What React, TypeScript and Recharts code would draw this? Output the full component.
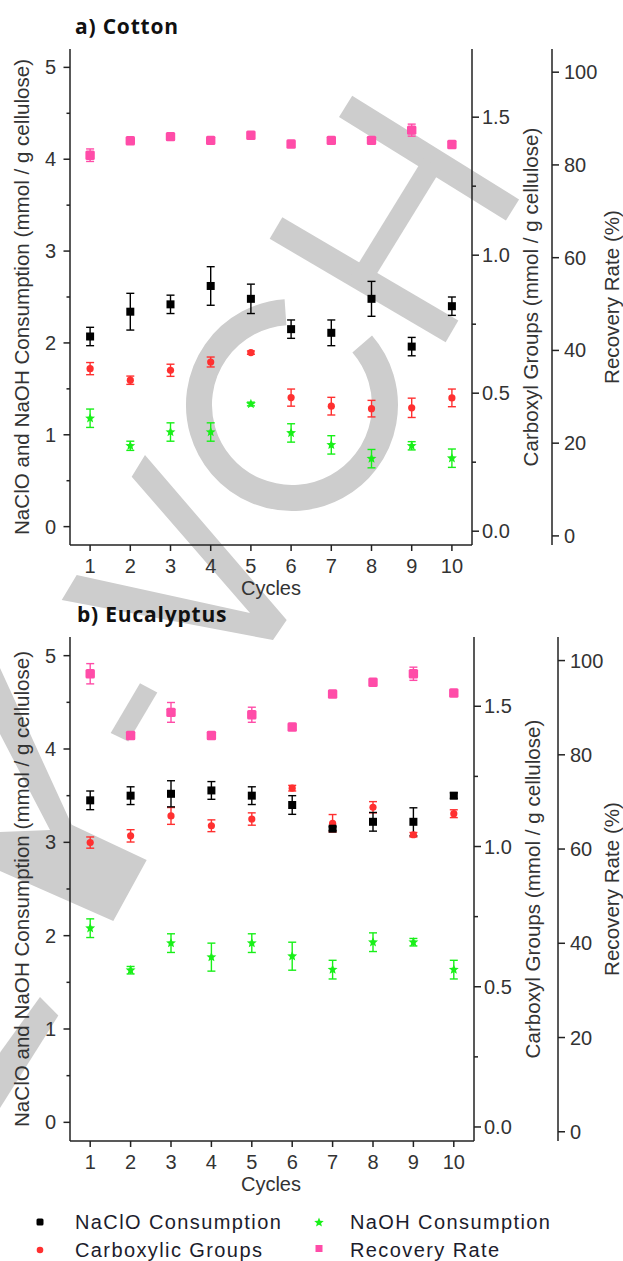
import React from "react";
import { ScatterChart, Scatter, XAxis, YAxis, ErrorBar } from "recharts";

const cycles = [1, 2, 3, 4, 5, 6, 7, 8, 9, 10];

// a) Cotton
const cottonNaClO = [2.07, 2.34, 2.42, 2.62, 2.48, 2.15, 2.11, 2.48, 1.96, 2.4];
const cottonNaClOErr = [0.1, 0.2, 0.1, 0.21, 0.16, 0.1, 0.14, 0.19, 0.1, 0.1];
const cottonNaOH = [1.18, 0.88, 1.03, 1.03, 1.335, 1.02, 0.89, 0.74, 0.88, 0.745];
const cottonNaOHErr = [0.1, 0.05, 0.1, 0.1, 0.02, 0.1, 0.1, 0.1, 0.045, 0.1];
const cottonCarboxyl = [0.589, 0.547, 0.583, 0.613, 0.647, 0.484, 0.453, 0.444, 0.447, 0.483];
const cottonCarboxylErr = [0.022, 0.015, 0.022, 0.018, 0.006, 0.031, 0.032, 0.03, 0.035, 0.032];
const cottonRecovery = [82.1, 85.2, 86.1, 85.3, 86.4, 84.5, 85.3, 85.3, 87.5, 84.4];
const cottonRecoveryErr = [1.35, 0.5, 0.5, 0.5, 0.5, 0.5, 0.5, 0.5, 1.3, 0.5];

// b) Eucalyptus
const eucaNaClO = [3.45, 3.5, 3.52, 3.556, 3.5, 3.4, 3.146, 3.22, 3.22, 3.5];
const eucaNaClOErr = [0.1, 0.095, 0.14, 0.095, 0.095, 0.1, 0.02, 0.1, 0.15, 0.03];
const eucaNaOH = [2.08, 1.63, 1.92, 1.77, 1.92, 1.78, 1.636, 1.93, 1.93, 1.636];
const eucaNaOHErr = [0.1, 0.04, 0.1, 0.15, 0.1, 0.15, 0.1, 0.1, 0.04, 0.1];
const eucaCarboxyl = [1.014, 1.038, 1.109, 1.074, 1.098, 1.208, 1.083, 1.14, 1.042, 1.117];
const eucaCarboxylErr = [0.02, 0.022, 0.03, 0.021, 0.022, 0.01, 0.031, 0.02, 0.008, 0.014];
const eucaRecovery = [97.2, 84.1, 89.0, 84.1, 88.5, 85.9, 92.9, 95.4, 97.2, 93.1];
const eucaRecoveryErr = [2.15, 0.5, 2.1, 0.5, 1.6, 0.5, 0.5, 0.5, 1.4, 0.5];

// ticks
const topTicks = [1, 1.5, 2, 2.5, 3, 3.5, 4, 4.5, 5, 5.5, 6, 6.5, 7, 7.5, 8, 8.5, 9, 9.5, 10];
const leftTicks = [0, 0.5, 1, 1.5, 2, 2.5, 3, 3.5, 4, 4.5, 5];
const carbTicks = [0, 0.25, 0.5, 0.75, 1, 1.25, 1.5];
const carbLabels = ["0.0", "", "0.5", "", "1.0", "", "1.5"];
const recTicks = [0, 20, 40, 60, 80, 100];

const legendNames = ["NaClO Consumption", "NaOH Consumption", "Carboxylic Groups", "Recovery Rate"];

const AX = "#222";
const TXT = "#333";
const FONT = "'Liberation Sans', Arial, sans-serif";
const C_BLACK = "#000";
const C_RED = "#ff3030";
const C_GREEN = "#18f018";
const C_PINK = "#ff4ca8";
const WM = "#cdcdcd";

const rows = (ys: number[], errs: number[]) => cycles.map((c, i) => ({ x: c, y: ys[i], err: errs[i] }));

const starPoints = (cx: number, cy: number, ro: number, ri: number) => {
  const pts: string[] = [];
  for (let k = 0; k < 10; k++) {
    const r = k % 2 === 0 ? ro : ri;
    const a = -Math.PI / 2 + (k * Math.PI) / 5;
    pts.push(`${cx + r * Math.cos(a)},${cy + r * Math.sin(a)}`);
  }
  return pts.join(" ");
};

const SquareShape = (p: any) => <rect x={p.cx - 4} y={p.cy - 4} width={8} height={8} fill={C_BLACK} />;
const DotShape = (p: any) => <circle cx={p.cx} cy={p.cy} r={3.6} fill={C_RED} />;
const StarShape = (p: any) => <polygon points={starPoints(p.cx, p.cy, 5.2, 2.3)} fill={C_GREEN} />;
const PinkShape = (p: any) => <rect x={p.cx - 4.7} y={p.cy - 4.7} width={9.4} height={9.4} rx={1.5} fill={C_PINK} />;

const textStyle = { fontFamily: FONT, fontSize: 20, fill: TXT } as const;

const BottomTick = (p: any) => (
  <g>
    <line x1={p.x} x2={p.x} y1={p.y} y2={p.y + 6} stroke={AX} strokeWidth={1.5} />
    <text x={p.x} y={p.y + 28} textAnchor="middle" {...textStyle}>{p.payload.value}</text>
  </g>
);

const TopTick = (p: any) => {
  const major = Number.isInteger(p.payload.value);
  return <line x1={p.x} x2={p.x} y1={p.y} y2={p.y + (major ? 5 : 3)} stroke={AX} strokeWidth={1.5} />;
};

const LeftTick = (p: any) => {
  const major = Number.isInteger(p.payload.value);
  return (
    <g>
      <line x1={p.x} x2={p.x - (major ? 6.5 : 3.5)} y1={p.y} y2={p.y} stroke={AX} strokeWidth={1.5} />
      {major && (
        <text x={p.x - 14} y={p.y + 7} textAnchor="end" {...textStyle}>{p.payload.value}</text>
      )}
    </g>
  );
};

const CarbTick = (p: any) => {
  const i = carbTicks.indexOf(p.payload.value);
  const lbl = carbLabels[i];
  return (
    <g>
      <line x1={p.x} x2={p.x + (lbl ? 7 : 4)} y1={p.y} y2={p.y} stroke={AX} strokeWidth={1.5} />
      {lbl && (
        <text x={p.x + 10} y={p.y + 7} textAnchor="start" {...textStyle}>{lbl}</text>
      )}
    </g>
  );
};

const RecTick = (p: any) => (
  <g>
    <line x1={p.x} x2={p.x + 7} y1={p.y} y2={p.y} stroke={AX} strokeWidth={1.5} />
    <text x={p.x + 12} y={p.y + 7} textAnchor="start" {...textStyle}>{p.payload.value}</text>
  </g>
);

const vTitle = (text: string, x: number, cy: number) => ({
  content: () => (
    <text
      x={x}
      y={cy}
      transform={`rotate(-90 ${x} ${cy})`}
      textAnchor="middle"
      dominantBaseline="central"
      fontFamily={FONT}
      fontSize={20.6}
      fill={TXT}
    >
      {text}
    </text>
  ),
});

interface PanelProps {
  plotTop: number;
  plotHeight: number;
  plotRight: number;
  recX: number;
  naclo: number[];
  nacloErr: number[];
  naoh: number[];
  naohErr: number[];
  carb: number[];
  carbErr: number[];
  rec: number[];
  recErr: number[];
}

function Panel(props: PanelProps) {
  const { plotTop, plotHeight, plotRight, recX } = props;
  const height = plotTop + plotHeight + 55;
  const carbWidth = recX - plotRight;
  const recWidth = 623 - recX;
  const cy = plotTop + plotHeight / 2;
  return (
    <ScatterChart width={623} height={height} margin={{ top: plotTop, right: 0, bottom: 0, left: 0 }}>
      <XAxis
        xAxisId="b"
        type="number"
        dataKey="x"
        domain={[0.5, 10.5]}
        ticks={cycles}
        interval={0}
        height={55}
        tickSize={0}
        tickMargin={0}
        tickLine={false}
        tick={<BottomTick />}
        axisLine={{ stroke: AX, strokeWidth: 1.5 }}
        label={{
          content: () => (
            <text x={271} y={plotTop + plotHeight + 50} textAnchor="middle" {...textStyle}>Cycles</text>
          ),
        }}
      />
      <XAxis
        xAxisId="t"
        orientation="top"
        type="number"
        dataKey="x"
        domain={[0.5, 10.5]}
        ticks={topTicks}
        interval={0}
        height={0}
        tickSize={0}
        tickMargin={0}
        tickLine={false}
        tick={<TopTick />}
        axisLine={{ stroke: AX, strokeWidth: 1.5 }}
      />
      <YAxis
        yAxisId="l"
        type="number"
        dataKey="y"
        domain={[-0.2, 5.2]}
        ticks={leftTicks}
        interval={0}
        width={70}
        tickSize={0}
        tickMargin={0}
        tickLine={false}
        tick={<LeftTick />}
        axisLine={{ stroke: AX, strokeWidth: 1.5 }}
        label={vTitle("NaClO and NaOH Consumption (mmol / g cellulose)", 21, cy)}
      />
      <YAxis
        yAxisId="c"
        orientation="right"
        type="number"
        dataKey="y"
        domain={[-0.05, 1.747]}
        ticks={carbTicks}
        interval={0}
        width={carbWidth}
        tickSize={0}
        tickMargin={0}
        tickLine={false}
        tick={<CarbTick />}
        axisLine={{ stroke: AX, strokeWidth: 1.5 }}
        label={vTitle("Carboxyl Groups (mmol / g cellulose)", plotRight + 58, cy)}
      />
      <YAxis
        yAxisId="r"
        orientation="right"
        type="number"
        dataKey="y"
        domain={[-1.96, 105]}
        ticks={recTicks}
        interval={0}
        width={recWidth}
        tickSize={0}
        tickMargin={0}
        tickLine={false}
        tick={<RecTick />}
        axisLine={{ stroke: AX, strokeWidth: 1.5 }}
        label={vTitle("Recovery Rate (%)", 611, cy)}
      />
      <Scatter data={rows(props.rec, props.recErr)} xAxisId="b" yAxisId="r" shape={PinkShape} isAnimationActive={false}>
        <ErrorBar dataKey="err" direction="y" width={4} stroke={C_PINK} strokeWidth={1.4} />
      </Scatter>
      <Scatter data={rows(props.carb, props.carbErr)} xAxisId="b" yAxisId="c" shape={DotShape} isAnimationActive={false}>
        <ErrorBar dataKey="err" direction="y" width={4} stroke={C_RED} strokeWidth={1.4} />
      </Scatter>
      <Scatter data={rows(props.naoh, props.naohErr)} xAxisId="b" yAxisId="l" shape={StarShape} isAnimationActive={false}>
        <ErrorBar dataKey="err" direction="y" width={4} stroke={C_GREEN} strokeWidth={1.4} />
      </Scatter>
      <Scatter data={rows(props.naclo, props.nacloErr)} xAxisId="b" yAxisId="l" shape={SquareShape} isAnimationActive={false}>
        <ErrorBar dataKey="err" direction="y" width={4} stroke={C_BLACK} strokeWidth={1.4} />
      </Scatter>
    </ScatterChart>
  );
}

// grey publisher watermark drawn behind both panels
function Watermark() {
  return (
    <svg width={623} height={1261} style={{ position: "absolute", left: 0, top: 0 }}>
      <g stroke={WM} fill="none" strokeLinecap="butt">
        <line x1={345.6} y1={106.4} x2={512.5} y2={210} strokeWidth={25} />
        <line x1={276} y1={228} x2={452} y2={331.4} strokeWidth={25} />
        <line x1={432} y1={164} x2={360} y2={281} strokeWidth={21} />
        <path d="M 285.5 312.2 A 93 93 0 1 0 362.2 344.0" strokeWidth={26} />
      </g>
      <g fill={WM}>
        <polygon points="76.7,575 250,613 131.7,476.7 145,455 286.7,620 273,640 61.7,600" />
        <polygon points="110.7,733 140,683.3 157.3,692.6 128.3,741.5" />
        <polygon points="0,668 71.7,824.8 146.7,860 113.3,921 0,871 0,832 50,830 0,734" />
        <polygon points="40,997 58.3,1015.6 0,1108 0,1052.6" />
      </g>
    </svg>
  );
}

export default function App() {
  const legendText = { fontFamily: FONT, fontSize: 20, fill: "#1c1c2c", letterSpacing: 1.4 } as const;
  return (
    <div style={{ position: "absolute", left: 0, top: 0, width: 623, height: 1261, background: "#fff" }}>
      <Watermark />
      <div style={{ position: "absolute", left: 0, top: 0 }}>
        <Panel
          plotTop={49}
          plotHeight={496}
          plotRight={472}
          recX={552}
          naclo={cottonNaClO}
          nacloErr={cottonNaClOErr}
          naoh={cottonNaOH}
          naohErr={cottonNaOHErr}
          carb={cottonCarboxyl}
          carbErr={cottonCarboxylErr}
          rec={cottonRecovery}
          recErr={cottonRecoveryErr}
        />
      </div>
      <div style={{ position: "absolute", left: 0, top: 600 }}>
        <Panel
          plotTop={37}
          plotHeight={504}
          plotRight={474}
          recX={558}
          naclo={eucaNaClO}
          nacloErr={eucaNaClOErr}
          naoh={eucaNaOH}
          naohErr={eucaNaOHErr}
          carb={eucaCarboxyl}
          carbErr={eucaCarboxylErr}
          rec={eucaRecovery}
          recErr={eucaRecoveryErr}
        />
      </div>
      <svg width={623} height={1261} style={{ position: "absolute", left: 0, top: 0, pointerEvents: "none" }}>
        <text x={75} y={34} fontFamily="'Open Sans', sans-serif" fontWeight={700} fontSize={21} letterSpacing={0.8} fill="#111">a) Cotton</text>
        <text x={77} y={621.5} fontFamily="'Open Sans', sans-serif" fontWeight={700} fontSize={21} letterSpacing={0.8} fill="#111">b) Eucalyptus</text>

        <rect x={36.5} y={1218.5} width={7} height={7} rx={1.5} fill={C_BLACK} />
        <text x={75} y={1229} {...legendText}>{legendNames[0]}</text>
        <polygon points={starPoints(319, 1222.5, 5, 2.2)} fill={C_GREEN} />
        <text x={350} y={1229} {...legendText}>{legendNames[1]}</text>
        <circle cx={40} cy={1250} r={3.3} fill={C_RED} />
        <text x={75} y={1257} {...legendText}>{legendNames[2]}</text>
        <rect x={315.5} y={1245} width={7} height={7} fill={C_PINK} />
        <text x={350} y={1257} {...legendText}>{legendNames[3]}</text>
      </svg>
    </div>
  );
}
